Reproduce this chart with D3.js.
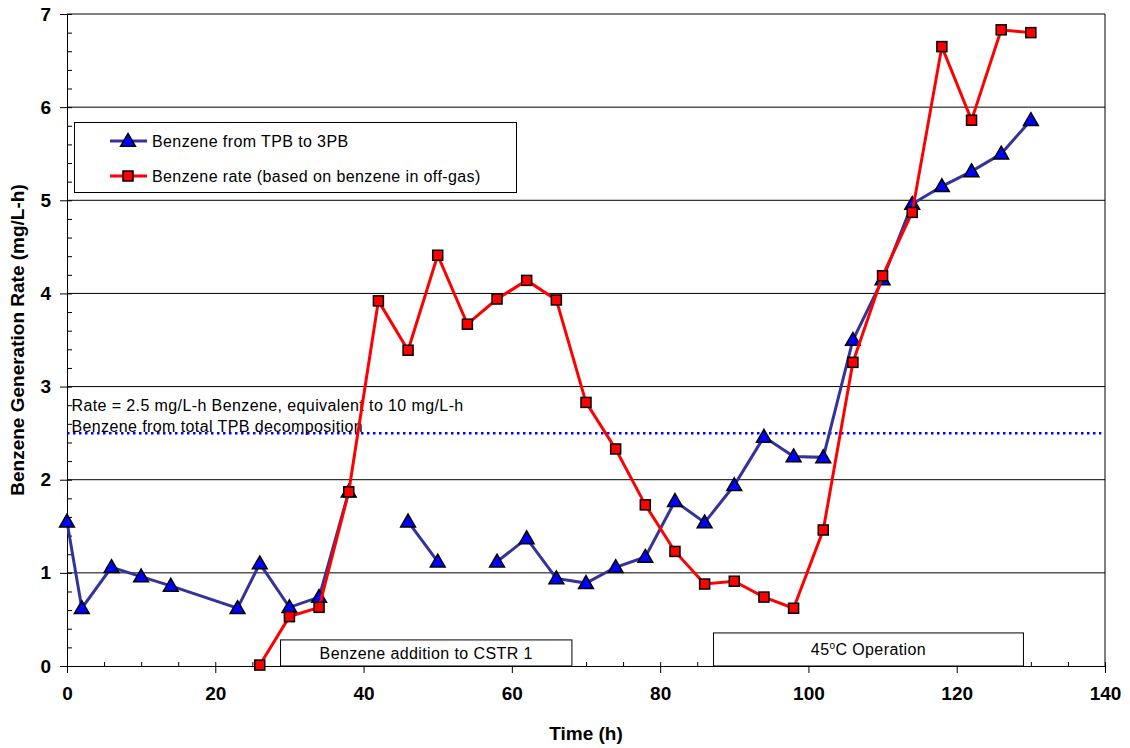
<!DOCTYPE html>
<html>
<head>
<meta charset="utf-8">
<script src="https://cdn.jsdelivr.net/npm/d3@7"></script>
<style>
  body { margin: 0; background: #fff; }
  svg { font-family: Arial, "Liberation Sans", sans-serif; }
</style>
</head>
<body>
<svg id="chart"></svg>
<script>
// time (h) for each series
const tpbHours = [0, 2, 6, 10, 14, 23, 26, 30, 34, 38, 42, 46, 50, 54, 58, 62, 66, 70, 74, 78, 82, 86, 90, 94, 98, 102, 106, 110, 114, 118, 122, 126, 130];
// null = no measurement (line breaks)
const tpbRate = [1.55, 0.62, 1.06, 0.96, 0.86, 0.62, 1.10, 0.63, 0.74, 1.87, null, 1.55, 1.12, null, 1.12, 1.37, 0.94, 0.89, 1.06, 1.17, 1.77, 1.54, 1.94, 2.46, 2.25, 2.24, 3.50, 4.15, 4.96, 5.15, 5.31, 5.50, 5.86];

const offgasHours = [26, 30, 34, 38, 42, 46, 50, 54, 58, 62, 66, 70, 74, 78, 82, 86, 90, 94, 98, 102, 106, 110, 114, 118, 122, 126, 130];
const offgasRate = [0.01, 0.53, 0.63, 1.87, 3.92, 3.39, 4.41, 3.67, 3.94, 4.14, 3.93, 2.83, 2.33, 1.73, 1.23, 0.88, 0.91, 0.74, 0.62, 1.46, 3.26, 4.19, 4.87, 6.65, 5.86, 6.83, 6.80];

const seriesNames = ["Benzene from TPB to 3PB", "Benzene rate (based on benzene in off-gas)"];
const xTicks = [0, 20, 40, 60, 80, 100, 120, 140];
const yTicks = [0, 1, 2, 3, 4, 5, 6, 7];
const limitRate = 2.5;

const width = 1130;
const height = 748;
const margin = { top: 14, right: 25, bottom: 82, left: 67 };
const fontFamily = "Arial, 'Liberation Sans', sans-serif";

const svg = d3.select("#chart").attr("width", width).attr("height", height);

const x = d3.scaleLinear().domain([0, 140]).range([margin.left, width - margin.right]);
const y = d3.scaleLinear().domain([0, 7]).range([height - margin.bottom, margin.top]);

// horizontal grid
svg.append("g")
  .selectAll("line")
  .data(yTicks.slice(1))
  .join("line")
  .attr("x1", x(0)).attr("x2", x(140))
  .attr("y1", d => y(d)).attr("y2", d => y(d))
  .attr("stroke", "#000").attr("stroke-width", 1);

// right border
svg.append("line")
  .attr("x1", x(140)).attr("x2", x(140))
  .attr("y1", y(0)).attr("y2", y(7))
  .attr("stroke", "#000");

// minor ticks (inside)
svg.append("g")
  .attr("transform", `translate(${x(0)},0)`)
  .call(d3.axisRight(y).tickValues(d3.range(0, 7.01, 0.2)).tickSize(5).tickFormat(""))
  .call(g => g.select(".domain").remove());
svg.append("g")
  .attr("transform", `translate(0,${y(0)})`)
  .call(d3.axisTop(x).tickValues(d3.range(0, 141, 5)).tickSize(4).tickFormat(""))
  .call(g => g.select(".domain").remove());

// y axis
svg.append("g")
  .attr("transform", `translate(${x(0)},0)`)
  .call(d3.axisLeft(y).tickValues(yTicks).tickFormat(d3.format("d")).tickSize(7).tickPadding(9).tickSizeOuter(0))
  .call(g => g.selectAll("text").attr("font-size", 19).attr("font-weight", "bold").attr("font-family", fontFamily));

// x axis
svg.append("g")
  .attr("transform", `translate(0,${y(0)})`)
  .call(d3.axisBottom(x).tickValues(xTicks).tickFormat(d3.format("d")).tickSize(7).tickPadding(14).tickSizeOuter(0))
  .call(g => g.selectAll("text").attr("font-size", 19).attr("font-weight", "bold").attr("font-family", fontFamily));

svg.selectAll(".tick line, .domain").attr("stroke", "#000");

// axis titles
svg.append("text")
  .attr("x", (x(0) + x(140)) / 2).attr("y", 740)
  .attr("text-anchor", "middle")
  .attr("font-size", 19).attr("font-weight", "bold")
  .text("Time (h)");
svg.append("text")
  .attr("transform", `translate(24,${(y(0) + y(7)) / 2}) rotate(-90)`)
  .attr("text-anchor", "middle")
  .attr("font-size", 19).attr("font-weight", "bold")
  .text("Benzene Generation Rate (mg/L-h)");

// 2.5 mg/L-h reference line
svg.append("line")
  .attr("x1", x(0)).attr("x2", x(139.5))
  .attr("y1", y(limitRate)).attr("y2", y(limitRate))
  .attr("stroke", "#0000ff").attr("stroke-width", 2.5)
  .attr("stroke-dasharray", "2.5 3.5");
const note = svg.append("text").attr("font-size", 16).attr("letter-spacing", 0.4).attr("fill", "#000");
note.append("tspan").attr("x", x(0.6)).attr("y", y(limitRate) - 22).text("Rate = 2.5 mg/L-h Benzene, equivalent to 10 mg/L-h");
note.append("tspan").attr("x", x(0.6)).attr("y", y(limitRate) - 1).text("Benzene from total TPB decomposition");

// period boxes
const periods = [
  { from: 28.8, to: 68.1, top: 0.28, label: "Benzene addition to CSTR 1" },
  { from: 87.2, to: 129.0, top: 0.355, label: "45°C Operation" }
];
periods.forEach(p => {
  svg.append("rect")
    .attr("x", x(p.from)).attr("y", y(p.top))
    .attr("width", x(p.to) - x(p.from)).attr("height", y(0) - y(p.top))
    .attr("fill", "#fff").attr("stroke", "#000");
  const t = svg.append("text")
    .attr("x", (x(p.from) + x(p.to)) / 2)
    .attr("y", (y(p.top) + y(0)) / 2 + 6)
    .attr("text-anchor", "middle")
    .attr("font-size", 16).attr("letter-spacing", 0.4);
  if (p.label.includes("°")) {
    const [a, b] = p.label.split("°");
    t.append("tspan").text(a);
    t.append("tspan").attr("font-size", 10).attr("dy", -6).text("o");
    t.append("tspan").attr("dy", 6).text(b);
  } else {
    t.text(p.label);
  }
});

// series
const tpbData = tpbHours.map((h, i) => ({ h, v: tpbRate[i] }));
const gasData = offgasHours.map((h, i) => ({ h, v: offgasRate[i] }));

const line = d3.line()
  .defined(d => d.v != null)
  .x(d => x(d.h))
  .y(d => y(d.v));

const triangle = d3.symbol().type(d3.symbolTriangle).size(95);

svg.append("path")
  .datum(tpbData)
  .attr("d", line)
  .attr("fill", "none").attr("stroke", "#333399").attr("stroke-width", 3);
svg.append("g")
  .selectAll("path")
  .data(tpbData.filter(d => d.v != null))
  .join("path")
  .attr("transform", d => `translate(${x(d.h)},${y(d.v) + 1})`)
  .attr("d", triangle)
  .attr("fill", "#0000ff").attr("stroke", "#000").attr("stroke-width", 1.5);

svg.append("path")
  .datum(gasData)
  .attr("d", line)
  .attr("fill", "none").attr("stroke", "#ff0000").attr("stroke-width", 3);
svg.append("g")
  .selectAll("rect")
  .data(gasData)
  .join("rect")
  .attr("x", d => x(d.h) - 5).attr("y", d => y(d.v) - 5)
  .attr("width", 10).attr("height", 10)
  .attr("fill", "#ff0000").attr("stroke", "#000").attr("stroke-width", 1.5);

// legend
const legend = svg.append("g");
legend.append("rect")
  .attr("x", 74.5).attr("y", 122.5).attr("width", 442).attr("height", 70)
  .attr("fill", "#fff").attr("stroke", "#000");
const legendColors = ["#333399", "#ff0000"];
seriesNames.forEach((name, i) => {
  const ly = 141 + i * 35;
  legend.append("line")
    .attr("x1", 110).attr("x2", 147).attr("y1", ly).attr("y2", ly)
    .attr("stroke", legendColors[i]).attr("stroke-width", 3);
  if (i === 0) {
    legend.append("path")
      .attr("transform", `translate(128,${ly + 1})`)
      .attr("d", triangle)
      .attr("fill", "#0000ff").attr("stroke", "#000").attr("stroke-width", 1.5);
  } else {
    legend.append("rect")
      .attr("x", 123).attr("y", ly - 5).attr("width", 10).attr("height", 10)
      .attr("fill", "#ff0000").attr("stroke", "#000").attr("stroke-width", 1.5);
  }
  legend.append("text")
    .attr("x", 152).attr("y", ly + 6)
    .attr("font-size", 16).attr("letter-spacing", 0.4)
    .text(name);
});
</script>
</body>
</html>
